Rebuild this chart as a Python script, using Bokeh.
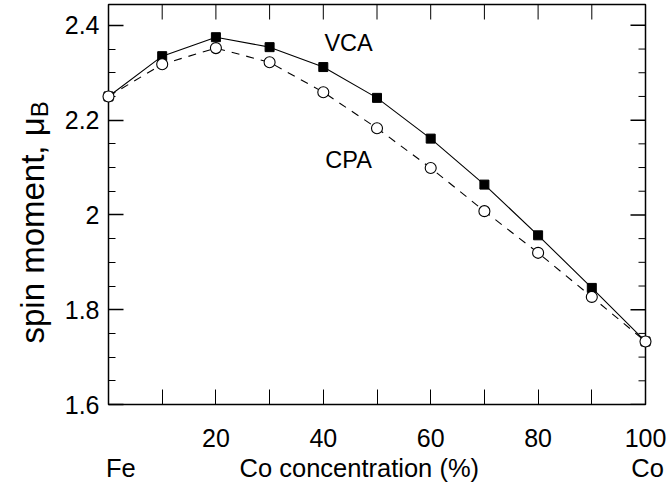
import numpy as np
from bokeh.plotting import figure
from bokeh.models import Range1d, FixedTicker, LinearAxis
from bokeh.core.properties import value
from bokeh.embed import file_html
from bokeh.resources import INLINE

# ---- data ----
conc = [0, 10, 20, 30, 40, 50, 60, 70, 80, 90, 100]
vca = [2.250, 2.335, 2.375, 2.354, 2.312, 2.247, 2.161, 2.064, 1.957, 1.846, 1.733]
cpa = [2.250, 2.318, 2.352, 2.322, 2.259, 2.183, 2.099, 2.008, 1.920, 1.827, 1.733]

x_ticks = [0, 10, 20, 30, 40, 50, 60, 70, 80, 90, 100]
x_tick_labels = {0: "", 10: "", 20: "20", 30: "", 40: "40", 50: "", 60: "60",
                 70: "", 80: "80", 90: "", 100: "100"}
y_ticks = [1.6, 1.8, 2.0, 2.2, 2.4]
y_minor = [1.65, 1.7, 1.75, 1.85, 1.9, 1.95, 2.05, 2.1, 2.15, 2.25, 2.3, 2.35, 2.45]
y_tick_labels = {1.6: "1.6", 1.8: "1.8", 2.0: "2", 2.2: "2.2", 2.4: "2.4"}

X0, X1 = 0, 100
Y0, Y1 = 1.6, 2.444

FONT = "Liberation Sans"

p = figure(width=670, height=489, output_backend="svg", toolbar_location=None,
           x_range=Range1d(X0, X1), y_range=Range1d(Y0, Y1),
           x_axis_type=None, y_axis_type=None,
           min_border_left=108, min_border_right=25, min_border_top=4,
           min_border_bottom=85)
p.background_fill_color = "white"
p.border_fill_color = "white"
p.outline_line_color = "black"
p.outline_line_width = 1.5
p.xgrid.visible = False
p.ygrid.visible = False

# bottom axis (labels) and left axis (labels)
xax = LinearAxis(ticker=FixedTicker(ticks=x_ticks))
xax.axis_line_color = None
xax.major_tick_in = 15
xax.major_tick_out = 0
xax.minor_tick_line_color = None
xax.major_label_overrides = x_tick_labels
xax.major_label_text_font = FONT
xax.major_label_text_font_size = "25px"
xax.major_label_text_color = "black"
xax.major_label_standoff = 24
p.add_layout(xax, "below")

yax = LinearAxis(ticker=FixedTicker(ticks=y_ticks, minor_ticks=y_minor))
yax.axis_line_color = None
yax.major_tick_in = 15
yax.major_tick_out = 0
yax.minor_tick_in = 7
yax.minor_tick_out = 0
yax.major_tick_line_width = 1.5
yax.major_label_overrides = y_tick_labels
yax.major_label_text_font = FONT
yax.major_label_text_font_size = "25px"
yax.major_label_text_color = "black"
yax.major_label_standoff = 9
p.add_layout(yax, "left")

# mirrored inward ticks on the top and right edges of the box
p.ray(x=x_ticks, y=[Y1] * len(x_ticks), length=15, length_units="screen",
      angle=-np.pi / 2, line_color="black", line_width=1)
p.ray(x=[X1] * len(y_ticks), y=y_ticks, length=15, length_units="screen",
      angle=np.pi, line_color="black", line_width=1.5)
p.ray(x=[X1] * len(y_minor), y=y_minor, length=7, length_units="screen",
      angle=np.pi, line_color="black", line_width=1)

# ---- series ----
p.line(conc, vca, line_color="black", line_width=1.1)
p.line(conc, cpa, line_color="black", line_width=1.1, line_dash="8 7")
p.scatter(conc, vca, marker="square", size=9, fill_color="black",
          line_color="black", level="overlay")
p.scatter(conc, cpa, marker="circle", size=11, fill_color="white",
          line_color="black", line_width=1.1, level="overlay")

# ---- text ----
def txt(x, y, s, size, align="center", baseline="middle", angle=0.0,
        level="glyph"):
    p.text(x=[x], y=[y], text=[s], text_font=value(FONT),
           text_font_size=value(size), text_color="black",
           text_align=align, text_baseline=baseline, angle=angle, level=level)

txt(44.7, 2.362, "VCA", "23.5px")
txt(44.7, 2.115, "CPA", "23.5px")
txt(2.3, 1.465, "Fe", "25.5px", level="overlay")
txt(46.7, 1.465, "Co concentration (%)", "25.5px", level="overlay")
txt(100.4, 1.465, "Co", "25.5px", level="overlay")

# y axis label with subscript B
txt(-14.1, 2.206, "spin moment, \u03bc", "33px", align="right",
    baseline="alphabetic", angle=np.pi / 2, level="overlay")
txt(-12.9, 2.206, "B", "24px", align="left", baseline="alphabetic",
    angle=np.pi / 2, level="overlay")

open("out.html", "w").write(file_html(p, INLINE))
